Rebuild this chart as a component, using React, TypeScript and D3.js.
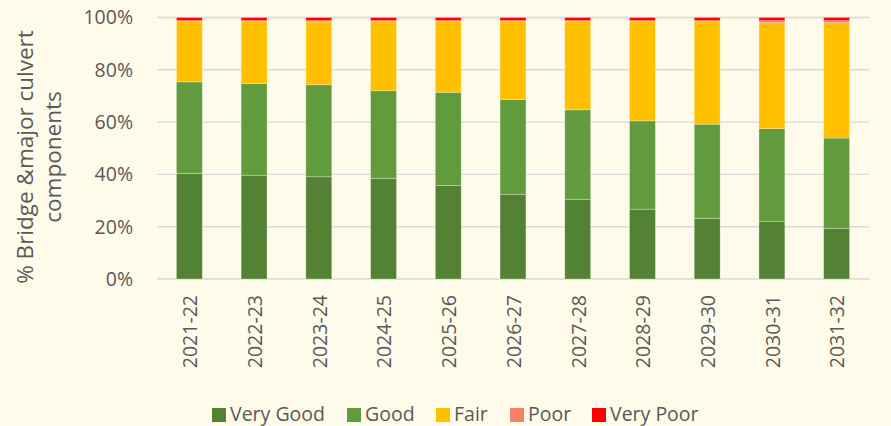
import React from 'react';
import * as d3 from 'd3';

const years = ['2021-22', '2022-23', '2023-24', '2024-25', '2025-26', '2026-27', '2027-28', '2028-29', '2029-30', '2030-31', '2031-32'];
const veryGood = [40.4, 39.7, 39.1, 38.4, 35.8, 32.4, 30.5, 26.7, 23.2, 22.1, 19.4];
const good = [35.0, 35.0, 35.2, 33.6, 35.6, 36.2, 34.2, 33.8, 36.0, 35.4, 34.5];
const fair = [23.3, 24.0, 24.0, 26.7, 27.3, 30.1, 34.0, 38.2, 39.2, 40.5, 44.1];
const poor = [0.1, 0.1, 0.5, 0.1, 0.1, 0.1, 0.1, 0.1, 0.4, 0.8, 0.8];
const veryPoor = [1.2, 1.2, 1.2, 1.2, 1.2, 1.2, 1.2, 1.2, 1.2, 1.2, 1.2];
const yTicks = [0, 20, 40, 60, 80, 100];

const seriesNames = ['Very Good', 'Good', 'Fair', 'Poor', 'Very Poor'];
const seriesColors = ['#548235', '#629B3E', '#FFC000', '#F8806A', '#FF0000'];

const W = 891, H = 426;
const margin = { left: 157, right: 22, top: 17.5, bottom: 147 };
const font = '"Open Sans", sans-serif';

export default function App() {
  const rows = years.map((y, i) => ({
    year: y,
    'Very Good': veryGood[i],
    Good: good[i],
    Fair: fair[i],
    Poor: poor[i],
    'Very Poor': veryPoor[i],
  }));
  const stacked = d3.stack<any>().keys(seriesNames)(rows);

  const x = d3.scaleBand()
    .domain(years)
    .range([margin.left, W - margin.right])
    .paddingInner(0.6)
    .paddingOuter(0.3);
  const y = d3.scaleLinear().domain([0, 100]).range([H - margin.bottom, margin.top]);

  // legend swatch x positions
  const legendX = [212, 347, 436, 510, 592];

  return (
    <svg width={W} height={H} style={{ position: 'absolute', left: 0, top: 0 }} fontFamily={font}>
      <rect width={W} height={H} fill="#FFFBEA" />
      {yTicks.map(t => (
        <g key={t}>
          <line x1={margin.left} x2={W - margin.right} y1={y(t)} y2={y(t)} stroke="#D9D9D9" strokeWidth={1.4} />
          <text x={133} y={y(t)} dy="0.35em" textAnchor="end" fontSize={19.5} fill="#595959">{t}%</text>
        </g>
      ))}
      {stacked.map((s, si) => (
        <g key={s.key} fill={seriesColors[si]}>
          {s.map((d, i) => (
            <rect key={i} x={x(years[i])} y={y(d[1])} width={x.bandwidth()} height={Math.max(0, y(d[0]) - y(d[1]))}
              stroke="#FFFFFF" strokeOpacity={0.35} strokeWidth={0.8} />
          ))}
        </g>
      ))}
      {years.map(yr => (
        <text key={yr} transform={`translate(${x(yr)! + x.bandwidth() / 2 + 1},295) rotate(-90)`}
          textAnchor="end" dy="0.35em" fontSize={19.5} fill="#595959">{yr}</text>
      ))}
      <g transform="translate(0,157) rotate(-90)" fontSize={22.5} fill="#595959" textAnchor="middle">
        <text x={0} y={33}>% Bridge &amp;major culvert</text>
        <text x={0} y={61}>components</text>
      </g>
      {seriesNames.map((n, i) => (
        <g key={n}>
          <rect x={legendX[i]} y={408} width={14} height={14} fill={seriesColors[i]} />
          <text x={legendX[i] + 18} y={414} dy="0.35em" fontSize={19.5} fill="#595959">{n}</text>
        </g>
      ))}
    </svg>
  );
}
